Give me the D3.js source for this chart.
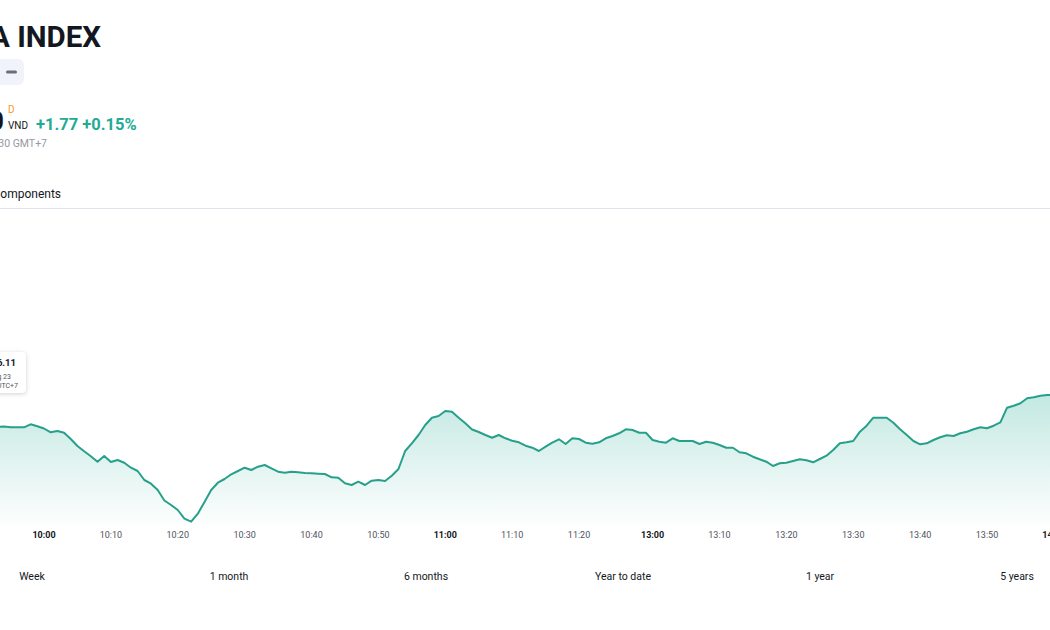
<!DOCTYPE html>
<html>
<head>
<meta charset="utf-8">
<script src="https://cdn.jsdelivr.net/npm/d3@7"></script>
<style>
  body { margin: 0; background: #ffffff; }
  svg { display: block; font-family: "Trebuchet MS", Roboto, sans-serif; }
</style>
</head>
<body>
<div id="chart"></div>
<script>
// sesiones de negociacion (la pausa de mediodia se comprime)
let sesiones = [["09:53","11:30"],["13:00","14:00"]];

// un valor por minuto
let valores = [
  1178.30,1178.35,1178.27,1178.27,1178.27,1178.57,1178.37,
  1178.15,1177.77,1177.90,1177.73,1177.10,1176.40,1175.87,1175.37,1174.83,1175.40,
  1174.80,1175.00,1174.73,1174.23,1173.90,1173.00,1172.63,1172.00,1170.95,1170.50,
  1170.00,1169.13,1168.83,1169.63,1170.80,1172.00,1172.73,1173.10,1173.57,1173.90,
  1174.23,1174.00,1174.33,1174.50,1174.17,1173.83,1173.73,1173.83,1173.77,1173.70,
  1173.67,1173.63,1173.60,1173.27,1173.23,1172.67,1172.50,1172.83,1172.50,1172.93,
  1173.00,1172.90,1173.43,1174.10,1175.90,1176.67,1177.50,1178.50,1179.23,1179.40,
  1179.90,1179.83,1179.23,1178.67,1178.05,1177.80,1177.50,1177.23,1177.50,1177.17,
  1176.93,1176.77,1176.43,1176.23,1175.90,1176.33,1176.73,1177.07,1176.60,1177.17,
  1177.10,1176.73,1176.63,1176.77,1177.17,1177.40,1177.67,1178.07,1178.00,1177.73,
  1177.73,
  1177.00,1176.83,1176.73,1177.17,1176.90,1176.90,1176.90,1176.60,1176.83,1176.73,
  1176.50,1176.23,1176.23,1175.77,1175.67,1175.33,1175.07,1174.83,1174.40,1174.67,
  1174.73,1174.90,1175.07,1174.97,1174.77,1175.10,1175.43,1176.00,1176.67,1176.77,
  1176.90,1177.83,1178.43,1179.23,1179.23,1179.23,1178.73,1178.07,1177.50,1176.90,
  1176.57,1176.67,1177.00,1177.27,1177.47,1177.40,1177.67,1177.83,1178.07,1178.27,
  1178.17,1178.43,1178.77,1180.23,1180.43,1180.67,1181.17,1181.27,1181.43,1181.50,
  1181.50
];

let ticks = ["10:00","10:10","10:20","10:30","10:40","10:50","11:00","11:10","11:20",
             "13:00","13:10","13:20","13:30","13:40","13:50","14:00"];
let pestanas = ["Week","1 month","6 months","Year to date","1 year","5 years"];

let verde = "#22ab94";
let linea = "#27a08b";

function minutos(t) {
    return parseInt(t.slice(0,2))*60 + parseInt(t.slice(3,5));
}

// indice de barra: 10:00 = 0, la pausa de 11:30 a 13:00 vale una barra
function indice(t) {
    let m = minutos(t);
    if (m <= minutos("11:30")) {
        return m - minutos("10:00");
    }
    return m - minutos("13:00") + 91;
}

let horas = [];
sesiones.forEach(s => {
    for (let m = minutos(s[0]); m <= minutos(s[1]); m++) {
        horas.push(String(Math.floor(m/60)).padStart(2,"0") + ":" + String(m%60).padStart(2,"0"));
    }
});

let datos = valores.map((v,i) => ({"hora": horas[i], "valor": v}));

let ancho = 1050, alto = 630;

let svg = d3.select("#chart")
    .append("svg")
    .attr("width",ancho)
    .attr("height",alto);

svg.append("rect")
    .attr("width",ancho)
    .attr("height",alto)
    .style("fill","#ffffff");

// cabecera (recortada a la izquierda como en la captura)
svg.append("text")
    .attr("x",-10)
    .attr("y",47)
    .text("A INDEX")
    .style("fill","#131722")
    .style("font-size","29.5px")
    .style("font-weight","bold");

svg.append("rect")
    .attr("x",-8)
    .attr("y",59)
    .attr("width",32)
    .attr("height",26)
    .attr("rx",6)
    .style("fill","#f0f3fa");

svg.append("rect")
    .attr("x",6)
    .attr("y",70.5)
    .attr("width",11)
    .attr("height",3)
    .attr("rx",1.5)
    .style("fill","#6a6d78");

svg.append("text")
    .attr("x",8)
    .attr("y",113)
    .text("D")
    .style("fill","#f59a23")
    .style("font-size","10px");

svg.append("text")
    .attr("x",4)
    .attr("y",130)
    .attr("text-anchor","end")
    .text("1,181.50")
    .style("fill","#131722")
    .style("font-size","26px")
    .style("font-weight","bold");

svg.append("text")
    .attr("x",8)
    .attr("y",129)
    .text("VND")
    .style("fill","#131722")
    .style("font-size","10px");

svg.append("text")
    .attr("x",36)
    .attr("y",130)
    .text("+1.77 +0.15%")
    .style("fill",verde)
    .style("font-size","16.5px")
    .style("font-weight","bold");

svg.append("text")
    .attr("x",47)
    .attr("y",147)
    .attr("text-anchor","end")
    .text("Aug 23 14:30 GMT+7")
    .style("fill","#9598a1")
    .style("font-size","10.5px");

svg.append("text")
    .attr("x",61)
    .attr("y",198)
    .attr("text-anchor","end")
    .text("Components")
    .style("fill","#131722")
    .style("font-size","12px");

svg.append("line")
    .attr("x1",0)
    .attr("x2",ancho)
    .attr("y1",208.5)
    .attr("y2",208.5)
    .style("stroke","#e0e3eb")
    .style("stroke-width",1);

// escalas
let xscale = d3.scaleLinear().domain([0,151]).range([44,44 + 151*6.688]);
let yscale = d3.scaleLinear().domain([1170,1180]).range([510,410]);
let base = 525;

let defs = svg.append("defs");
let grad = defs.append("linearGradient")
    .attr("id","relleno")
    .attr("gradientUnits","userSpaceOnUse")
    .attr("x1",0).attr("x2",0)
    .attr("y1",390).attr("y2",base);
grad.append("stop").attr("offset","0%").attr("stop-color",verde).attr("stop-opacity",0.28);
grad.append("stop").attr("offset","100%").attr("stop-color",verde).attr("stop-opacity",0.01);

let area = d3.area()
    .x(d => xscale(indice(d.hora)))
    .y0(base)
    .y1(d => yscale(d.valor));

let trazo = d3.line()
    .x(d => xscale(indice(d.hora)))
    .y(d => yscale(d.valor));

svg.append("path")
    .datum(datos)
    .attr("d",area)
    .style("fill","url(#relleno)");

svg.append("path")
    .datum(datos)
    .attr("d",trazo)
    .style("fill","none")
    .style("stroke",linea)
    .style("stroke-width",2)
    .style("stroke-linejoin","round");

// etiquetas del eje de tiempo
svg.selectAll(".axlab")
    .data(ticks)
    .enter()
    .append("text")
    .attr("class","axlab")
    .attr("x",d => xscale(indice(d)))
    .attr("y",538)
    .text(d => d)
    .style("text-anchor","middle")
    .style("fill",d => d.slice(3) == "00" ? "#131722" : "#50535e")
    .style("font-size","9px")
    .style("font-weight",d => d.slice(3) == "00" ? "bold" : "normal");

// tooltip recortado a la izquierda
let tip = svg.append("g");
tip.append("rect")
    .attr("x",-70)
    .attr("y",352)
    .attr("width",96)
    .attr("height",41)
    .attr("rx",4)
    .style("fill","#ffffff")
    .style("filter","drop-shadow(0px 1px 2px rgba(0,0,0,0.18))");
tip.append("text")
    .attr("x",16)
    .attr("y",366)
    .attr("text-anchor","end")
    .text("1,176.11")
    .style("fill","#131722")
    .style("font-size","9.5px")
    .style("font-weight","bold");
tip.append("text")
    .attr("x",11)
    .attr("y",379)
    .attr("text-anchor","end")
    .text("Wed, Aug 23")
    .style("fill","#50535e")
    .style("font-size","7px");
tip.append("text")
    .attr("x",18)
    .attr("y",388)
    .attr("text-anchor","end")
    .text("09:45 UTC+7")
    .style("fill","#50535e")
    .style("font-size","7px");

// pestanas de periodo
let tscale = d3.scaleLinear().domain([0,pestanas.length - 1]).range([32,1017]);
svg.selectAll(".tab")
    .data(pestanas)
    .enter()
    .append("text")
    .attr("class","tab")
    .attr("x",(d,i) => tscale(i))
    .attr("y",580)
    .text(d => d)
    .style("text-anchor","middle")
    .style("fill","#131722")
    .style("font-size","10.5px");
</script>
</body>
</html>
